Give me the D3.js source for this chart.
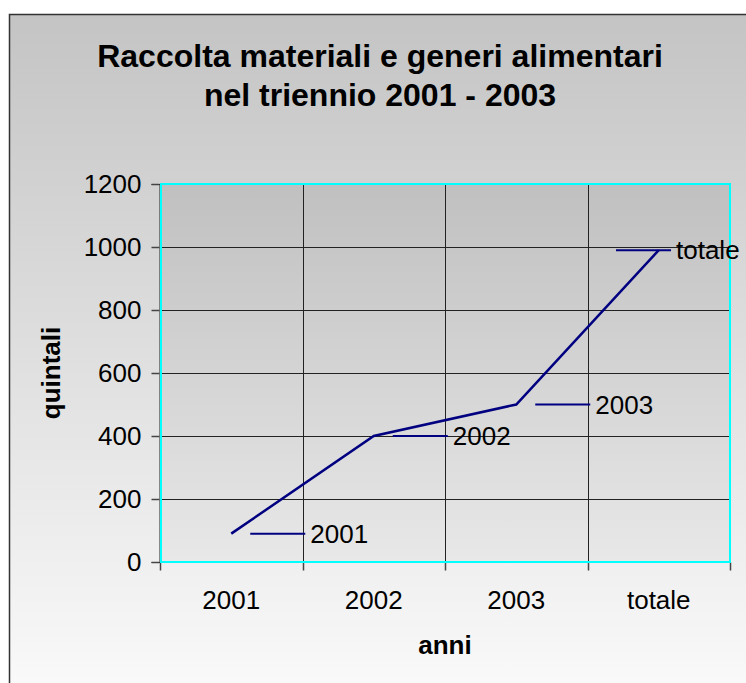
<!DOCTYPE html>
<html>
<head>
<meta charset="utf-8">
<script src="https://cdn.jsdelivr.net/npm/d3@7"></script>
<style>
  html, body { margin: 0; padding: 0; background: #fff; }
  svg { display: block; font-family: "Liberation Sans", Arial, sans-serif; }
</style>
</head>
<body>
<div id="chart"></div>
<script>
const categories = ["2001", "2002", "2003", "totale"]
const values = [90, 400, 500, 990]
const yTicks = [0, 200, 400, 600, 800, 1000, 1200]
const titleLines = ["Raccolta materiali e generi alimentari", "nel triennio 2001 - 2003"]

const W = 746, H = 683
const PLOT = { LEFT: 160, TOP: 184, RIGHT: 730, BOTTOM: 562 }
const FONT = "Liberation Sans, Arial, sans-serif"

const svg = d3.select("#chart").append("svg")
  .attr("width", W)
  .attr("height", H)

const defs = svg.append("defs")
const bg = defs.append("linearGradient").attr("id", "bg").attr("x1", 0).attr("x2", 0).attr("y1", 0).attr("y2", 1)
bg.append("stop").attr("offset", "0%").attr("stop-color", "#c4c4c4")
bg.append("stop").attr("offset", "100%").attr("stop-color", "#fbfbfb")
const pg = defs.append("linearGradient").attr("id", "pg").attr("x1", 0).attr("x2", 0).attr("y1", 0).attr("y2", 1)
pg.append("stop").attr("offset", "0%").attr("stop-color", "#c0c0c0")
pg.append("stop").attr("offset", "100%").attr("stop-color", "#e8e8e8")

// outer frame
svg.append("rect")
  .attr("x", 9.5).attr("y", 14.5)
  .attr("width", W + 10).attr("height", H + 10)
  .attr("fill", "url(#bg)")
  .attr("stroke", "#333").attr("stroke-width", 1.5)

// title
svg.append("g").selectAll("text")
  .data(titleLines)
  .join("text")
  .attr("x", 380)
  .attr("y", (d, i) => 67 + i * 39)
  .attr("text-anchor", "middle")
  .attr("font-size", 32)
  .attr("font-weight", "bold")
  .text(d => d)

const x = d3.scaleBand()
  .domain(categories)
  .range([PLOT.LEFT, PLOT.RIGHT])

const y = d3.scaleLinear()
  .domain([0, 1200])
  .range([PLOT.BOTTOM, PLOT.TOP])

// plot area
svg.append("rect")
  .attr("x", PLOT.LEFT).attr("y", PLOT.TOP)
  .attr("width", PLOT.RIGHT - PLOT.LEFT).attr("height", PLOT.BOTTOM - PLOT.TOP)
  .attr("fill", "url(#pg)")

// grid
const grid = svg.append("g").attr("stroke", "#222").attr("stroke-width", 1)
grid.selectAll("line.h")
  .data(yTicks.slice(1, -1))
  .join("line")
  .attr("class", "h")
  .attr("x1", PLOT.LEFT).attr("x2", PLOT.RIGHT)
  .attr("y1", d => Math.round(y(d)) + 0.5).attr("y2", d => Math.round(y(d)) + 0.5)
grid.selectAll("line.v")
  .data(categories.slice(1))
  .join("line")
  .attr("class", "v")
  .attr("x1", d => Math.round(x(d)) + 0.5).attr("x2", d => Math.round(x(d)) + 0.5)
  .attr("y1", PLOT.TOP).attr("y2", PLOT.BOTTOM)

// y axis
const yAxis = svg.append("g")
  .attr("transform", `translate(${PLOT.LEFT - 0.5},0)`)
  .call(d3.axisLeft(y).tickValues(yTicks).tickFormat(d3.format("d")).tickSize(8).tickPadding(10))
yAxis.select(".domain").attr("stroke", "#222")
yAxis.selectAll(".tick line").attr("stroke", "#444").attr("stroke-width", 1.5)
yAxis.selectAll(".tick text")
  .attr("font-size", 26).attr("font-family", FONT).attr("fill", "#000")

// x axis
const xAxis = svg.append("g")
  .attr("transform", `translate(0,${PLOT.BOTTOM + 0.5})`)
  .call(d3.axisBottom(x).tickSize(0).tickPadding(28))
xAxis.select(".domain").remove()
xAxis.selectAll(".tick text")
  .attr("font-size", 26).attr("font-family", FONT).attr("fill", "#000")
xAxis.selectAll("line.sep")
  .data(categories.concat(["end"]))
  .join("line")
  .attr("class", "sep")
  .attr("x1", (d, i) => Math.round(PLOT.LEFT + i * x.bandwidth()) + 0.5)
  .attr("x2", (d, i) => Math.round(PLOT.LEFT + i * x.bandwidth()) + 0.5)
  .attr("y1", 0).attr("y2", 8)
  .attr("stroke", "#444").attr("stroke-width", 1.5)

// cyan plot border
svg.append("rect")
  .attr("x", PLOT.LEFT + 1).attr("y", PLOT.TOP)
  .attr("width", PLOT.RIGHT - PLOT.LEFT - 1).attr("height", PLOT.BOTTOM - PLOT.TOP)
  .attr("fill", "none")
  .attr("stroke", "#00ffff").attr("stroke-width", 2)

// series line
const cx = d => x(d) + x.bandwidth() / 2
svg.append("path")
  .datum(values)
  .attr("fill", "none")
  .attr("stroke", "#000080")
  .attr("stroke-width", 2.5)
  .attr("d", d3.line().x((d, i) => cx(categories[i])).y(d => y(d)))

// data labels with leader lines
const labels = svg.append("g").selectAll("g")
  .data(values)
  .join("g")
  .attr("transform", (d, i) => {
    const sx = Math.min(cx(categories[i]) + 19, PLOT.RIGHT - 114)
    return `translate(${sx},${y(d)})`
  })
labels.append("line")
  .attr("x1", 0).attr("x2", 55)
  .attr("stroke", "#000080").attr("stroke-width", 2)
labels.append("text")
  .attr("x", 60).attr("y", 9)
  .attr("font-size", 26)
  .text((d, i) => categories[i])

// axis titles
svg.append("text")
  .attr("x", (PLOT.LEFT + PLOT.RIGHT) / 2).attr("y", 654)
  .attr("text-anchor", "middle")
  .attr("font-size", 26).attr("font-weight", "bold")
  .text("anni")

svg.append("text")
  .attr("transform", `translate(60,${(PLOT.TOP + PLOT.BOTTOM) / 2}) rotate(-90)`)
  .attr("text-anchor", "middle")
  .attr("font-size", 26).attr("font-weight", "bold")
  .text("quintali")
</script>
</body>
</html>
